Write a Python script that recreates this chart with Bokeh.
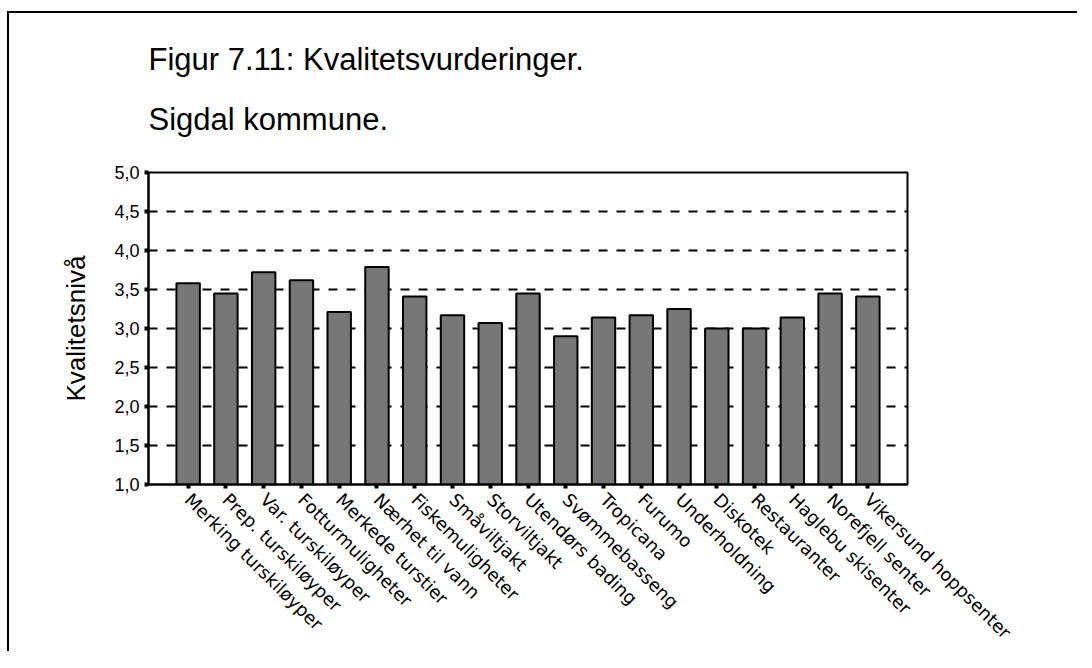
from bokeh.plotting import figure
from bokeh.models import (FixedTicker, CustomJSTickFormatter, Title,
                          FactorRange, Range1d, ColumnDataSource)
from bokeh.embed import file_html
from bokeh.resources import INLINE

categories = [
    "Merking turskiløyper", "Prep. turskiløyper", "Var. turskiløyper",
    "Fotturmuligheter", "Merkede turstier", "Nærhet til vann",
    "Fiskemuligheter", "Småviltjakt", "Storviltjakt", "Utendørs bading",
    "Svømmebasseng", "Tropicana", "Furumo", "Underholdning", "Diskotek",
    "Restauranter", "Haglebu skisenter", "Norefjell senter",
    "Vikersund hoppsenter",
]
values = [3.58, 3.45, 3.72, 3.62, 3.21, 3.79, 3.41, 3.17, 3.07, 3.45,
          2.90, 3.14, 3.17, 3.25, 3.00, 3.00, 3.14, 3.45, 3.41]
y_ticks = [1.0, 1.5, 2.0, 2.5, 3.0, 3.5, 4.0, 4.5, 5.0]
grid_ticks = [1.5, 2.0, 2.5, 3.0, 3.5, 4.0, 4.5]
title_text = "Figur 7.11: Kvalitetsvurderinger."
subtitle_text = "Sigdal kommune."
y_label = "Kvalitetsnivå"

FONT = "Liberation Sans"

p = figure(
    width=1070, height=640,
    x_range=FactorRange(factors=categories, range_padding=0.55,
                        range_padding_units="absolute"),
    y_range=Range1d(1.0, 5.0),
    output_backend="svg", toolbar_location=None,
    min_border_left=139, min_border_right=172,
    min_border_top=159, min_border_bottom=167,
    background_fill_color="white", border_fill_color="white",
    styles={"margin-left": "9px", "margin-top": "13px",
            "box-shadow": "6px 0px 0px 0px white, -2px -2px 0px 0px black"},
)

src = ColumnDataSource(dict(cat=categories, val=values))
p.vbar(x="cat", top="val", bottom=1.0, width=0.62, source=src,
       fill_color="#777777", line_color="black", line_width=2)

p.outline_line_color = "black"
p.outline_line_width = 2

# titles (p.title sits farthest from the frame, added Title closest)
p.title.text = title_text
p.title.text_font = FONT
p.title.text_font_size = "31px"
p.title.text_font_style = "normal"
p.title.text_color = "black"
p.title.align = "left"
p.title.standoff = -26
sub_title = Title(text=subtitle_text, text_font=FONT, text_font_size="31px",
                  text_font_style="normal", text_color="black",
                  align="left", standoff=72)
p.add_layout(sub_title, "above")

# grid
p.xgrid.grid_line_color = None
p.ygrid.ticker = FixedTicker(ticks=grid_ticks)
p.ygrid.grid_line_color = "black"
p.ygrid.grid_line_width = 2
p.ygrid.grid_line_dash = "9 9"

# y axis
p.yaxis.ticker = FixedTicker(ticks=y_ticks)
p.yaxis.formatter = CustomJSTickFormatter(code="return tick.toFixed(1).replace('.', ',');")
p.yaxis.axis_line_width = 2
p.yaxis.major_tick_line_width = 4
p.yaxis.major_tick_out = 4
p.yaxis.major_tick_in = 0
p.yaxis.minor_tick_line_color = None
p.yaxis.major_label_text_font = FONT
p.yaxis.major_label_text_font_size = "18px"
p.yaxis.major_label_text_color = "black"
p.yaxis.major_label_standoff = 5
p.yaxis.axis_label = y_label
p.yaxis.axis_label_text_font = FONT
p.yaxis.axis_label_text_font_size = "26px"
p.yaxis.axis_label_text_font_style = "normal"
p.yaxis.axis_label_text_color = "black"
p.yaxis.axis_label_standoff = 20

# x axis
p.xaxis.axis_line_width = 2
p.xaxis.major_tick_line_width = 4
p.xaxis.major_tick_out = 4
p.xaxis.major_tick_in = 0
p.xaxis.major_label_orientation = -0.78
p.xaxis.major_label_text_font = "DejaVu Sans"
p.xaxis.major_label_text_font_size = "18px"
p.xaxis.major_label_text_color = "black"
p.xaxis.major_label_standoff = 8

open("out.html", "w").write(file_html(p, INLINE))
